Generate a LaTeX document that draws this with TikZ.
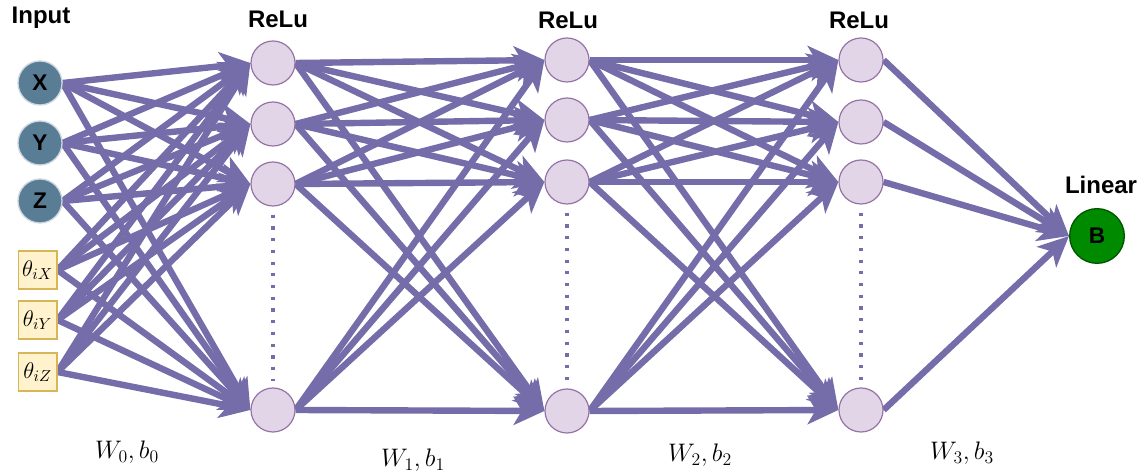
\RequirePackage{fix-cm}
\documentclass[tikz,border=0pt]{standalone}
\usepackage{fontspec}
\setsansfont{Liberation Sans}
\usetikzlibrary{arrows.meta,backgrounds}
\definecolor{edgec}{RGB}{117,108,170}
\definecolor{inpfill}{RGB}{90,125,150}
\definecolor{inpdraw}{RGB}{205,214,224}
\definecolor{hidfill}{RGB}{225,213,231}
\definecolor{hiddraw}{RGB}{150,115,166}
\definecolor{boxfill}{RGB}{255,242,204}
\definecolor{boxdraw}{RGB}{214,182,86}
\definecolor{outfill}{RGB}{0,138,0}
\definecolor{outdraw}{RGB}{0,87,0}
\begin{document}
\begin{tikzpicture}[x=0.75pt,y=-0.75pt,
  conn/.style={draw=edgec, line width=4.8pt, -{Stealth[length=23pt,width=21pt,inset=6pt]}},
  inp/.style={circle, fill=inpfill, draw=inpdraw, line width=1pt, minimum size=33pt, inner sep=0pt, font=\sffamily\bfseries\fontsize{17}{17}\selectfont},
  hid/.style={circle, fill=hidfill, draw=hiddraw, line width=0.9pt, minimum size=33pt, inner sep=0pt},
  outn/.style={circle, fill=outfill, draw=outdraw, line width=1pt, minimum size=41pt, inner sep=0pt, font=\sffamily\bfseries\fontsize{17}{17}\selectfont},
  par/.style={rectangle, fill=boxfill, draw=boxdraw, line width=1pt, minimum width=29pt, minimum height=28.5pt, inner sep=0pt, font=\fontsize{17}{17}\selectfont},
  ttl/.style={font=\sffamily\bfseries\fontsize{18}{18}\selectfont},
  wlab/.style={font=\fontsize{19}{19}\selectfont},
  dots/.style={draw=edgec, line width=2.4pt, dash pattern=on 2.4pt off 6.4pt}
]
\useasboundingbox (0,0) rectangle (1146,473);
% titles
\node[ttl] (tin) at (41,18) {Input};
\node[ttl] (t1) at (278,19) {ReLu};
\node[ttl] (t2) at (568,20) {ReLu};
\node[ttl] (t3) at (859,20) {ReLu};
\node[ttl] (tout) at (1101,185) {Linear};
% inputs
\node[inp] (x) at (40,83) {X};
\node[inp] (y) at (40,143) {Y};
\node[inp] (z) at (40,201) {Z};
\node[par] (tx) at (37.5,270) {$\theta_{iX}$};
\node[par] (ty) at (37.5,320) {$\theta_{iY}$};
\node[par] (tz) at (37.5,372) {$\theta_{iZ}$};
% hidden layers
\node[hid] (a1) at (273,63) {};
\node[hid] (a2) at (273,124) {};
\node[hid] (a3) at (273,184) {};
\node[hid] (a4) at (273,410) {};
\node[hid] (b1) at (567,60) {};
\node[hid] (b2) at (567,120) {};
\node[hid] (b3) at (567,182) {};
\node[hid] (b4) at (567,411) {};
\node[hid] (c1) at (861,60) {};
\node[hid] (c2) at (861,122) {};
\node[hid] (c3) at (861,182) {};
\node[hid] (c4) at (861,410) {};
\node[outn] (o) at (1097,236) {B};
% weight labels
\node[wlab] (w0) at (127,452) {$W_0, b_0$};
\node[wlab] (w1) at (413,460) {$W_1, b_1$};
\node[wlab] (w2) at (700,455) {$W_2, b_2$};
\node[wlab] (w3) at (962,453) {$W_3, b_3$};
% dotted
\draw[dots] ([yshift=-6pt]a3.south) -- ([yshift=5pt]a4.north);
\draw[dots] ([yshift=-6pt]b3.south) -- ([yshift=5pt]b4.north);
\draw[dots] ([yshift=-6pt]c3.south) -- ([yshift=5pt]c4.north);
\begin{scope}[on background layer]
\foreach \s in {x,y,z,tx,ty,tz}
  \foreach \t in {a1,a2,a3,a4}
    \draw[conn] (\s.east) -- (\t.west);
\foreach \s in {a1,a2,a3,a4}
  \foreach \t in {b1,b2,b3,b4}
    \draw[conn] (\s.east) -- (\t.west);
\foreach \s in {b1,b2,b3,b4}
  \foreach \t in {c1,c2,c3,c4}
    \draw[conn] (\s.east) -- (\t.west);
\foreach \s in {c1,c2,c3,c4}
  \draw[conn] (\s.east) -- (o.west);
\end{scope}
\end{tikzpicture}
\end{document}
